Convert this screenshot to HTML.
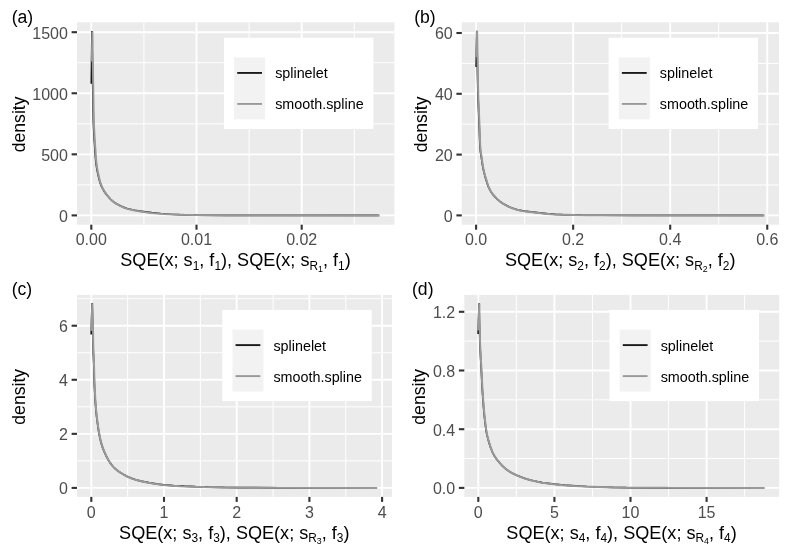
<!DOCTYPE html>
<html lang="en"><head><meta charset="utf-8"><title>SQE density plots</title>
<style>html,body{margin:0;padding:0;background:#fff;}body{width:790px;height:553px;overflow:hidden;}svg{display:block;}text{font-family:"Liberation Sans", Arial, Helvetica, sans-serif;}.ax{font-size:16px;fill:#4d4d4d;}.ti{font-size:17.6px;fill:#000;}.xt{font-size:18.1px;fill:#000;}.lg{font-size:14.35px;fill:#000;}</style></head><body>
<svg width="790" height="553" viewBox="0 0 790 553">
<rect x="0" y="0" width="790" height="553" fill="#ffffff"/>
<g>
<clipPath id="cp0"><rect x="77" y="22.3" width="317.4" height="202.4"/></clipPath>
<rect x="77" y="22.3" width="317.4" height="202.4" fill="#ebebeb"/>
<g clip-path="url(#cp0)" stroke="#ffffff" fill="none">
<line x1="77" x2="394.4" y1="184.87" y2="184.87" stroke-width="1.0"/>
<line x1="77" x2="394.4" y1="123.8" y2="123.8" stroke-width="1.0"/>
<line x1="77" x2="394.4" y1="62.73" y2="62.73" stroke-width="1.0"/>
<line x1="143.9" x2="143.9" y1="22.3" y2="224.7" stroke-width="1.0"/>
<line x1="249.1" x2="249.1" y1="22.3" y2="224.7" stroke-width="1.0"/>
<line x1="354.3" x2="354.3" y1="22.3" y2="224.7" stroke-width="1.0"/>
<line x1="77" x2="394.4" y1="215.4" y2="215.4" stroke-width="1.9"/>
<line x1="77" x2="394.4" y1="154.33" y2="154.33" stroke-width="1.9"/>
<line x1="77" x2="394.4" y1="93.27" y2="93.27" stroke-width="1.9"/>
<line x1="77" x2="394.4" y1="32.2" y2="32.2" stroke-width="1.9"/>
<line x1="91.3" x2="91.3" y1="22.3" y2="224.7" stroke-width="1.9"/>
<line x1="196.5" x2="196.5" y1="22.3" y2="224.7" stroke-width="1.9"/>
<line x1="301.7" x2="301.7" y1="22.3" y2="224.7" stroke-width="1.9"/>
</g>
<g clip-path="url(#cp0)" fill="none" stroke-linejoin="bevel" stroke-linecap="butt" stroke-width="2.0">
<path d="M91.3 83.7 L91.95 31 L92.31 59 L93.24 114.99 L93.39 121.98 L93.64 127.98 L94.24 138.96 L94.94 148.93 L95.27 154.92 L95.79 160.89 L96.26 164.87 L96.87 168.82 L97.44 171.76 L98.97 178.6 L99.75 181.5 L100.35 183.41 L101.04 185.28 L101.85 187.1 L102.77 188.89 L104.29 191.48 L105.41 193.13 L107.26 195.51 L109.2 197.79 L110.58 199.24 L112.03 200.64 L113.56 201.91 L115.2 203.03 L116.92 204.07 L118.7 205.02 L121.39 206.33 L123.23 207.13 L125.1 207.85 L127 208.46 L128.93 208.98 L134.8 210.25 L139.73 211.09 L151.63 212.64 L160.6 213.48 L170.58 214.23 L179.57 214.67 L188.57 214.94 L196.57 215.1 L226.57 215.29 L378.7 215.4" stroke="#1a1a1a" stroke-width="1.7"/>
<path d="M91.8 61.4 L92.4 31.4 L92.84 64.4 L93.71 116.39 L93.91 124.38 L94.69 139.36 L95.39 149.33 L95.87 157.31 L96.58 164.27 L97.5 170.2 L99.19 178.02 L99.66 179.97 L100.49 182.86 L101.13 184.75 L101.88 186.59 L102.75 188.4 L104.22 191.03 L105.28 192.71 L107.08 195.13 L108.99 197.44 L111.03 199.64 L112.48 201.04 L114.01 202.31 L115.65 203.43 L118.26 204.96 L120.04 205.87 L122.76 207.14 L124.62 207.91 L126.5 208.57 L128.41 209.12 L131.33 209.84 L137.22 211.01 L141.17 211.62 L151.09 212.92 L154.07 213.23 L163.04 213.96 L175.03 214.6 L184.02 214.86 L194.02 215.06 L223.02 215.28 L251.02 215.35 L379.7 215.4" stroke="#999999"/>
</g>
<g stroke="#333333" stroke-width="2.1">
<line x1="71.6" x2="77" y1="215.4" y2="215.4"/>
<line x1="71.6" x2="77" y1="154.33" y2="154.33"/>
<line x1="71.6" x2="77" y1="93.27" y2="93.27"/>
<line x1="71.6" x2="77" y1="32.2" y2="32.2"/>
<line x1="91.3" x2="91.3" y1="224.7" y2="229.7"/>
<line x1="196.5" x2="196.5" y1="224.7" y2="229.7"/>
<line x1="301.7" x2="301.7" y1="224.7" y2="229.7"/>
</g>
<g class="ax">
<text x="67.9" y="221.8" text-anchor="end">0</text>
<text x="67.9" y="160.73" text-anchor="end">500</text>
<text x="67.9" y="99.67" text-anchor="end">1000</text>
<text x="67.9" y="38.6" text-anchor="end">1500</text>
<text x="91.3" y="245.4" text-anchor="middle">0.00</text>
<text x="196.5" y="245.4" text-anchor="middle">0.01</text>
<text x="301.7" y="245.4" text-anchor="middle">0.02</text>
</g>
<text class="ti" transform="translate(24.8 124.4) rotate(-90)" text-anchor="middle">density</text>
<text class="xt" x="235.5" y="266.3" text-anchor="middle">SQE(x; s<tspan font-size="11.9" dy="3.6">1</tspan><tspan dy="-3.6">, f</tspan><tspan font-size="11.9" dy="3.6">1</tspan><tspan dy="-3.6">), SQE(x; s</tspan><tspan font-size="11.9" dy="3.6">R</tspan><tspan font-size="8.8" dy="2.2">1</tspan><tspan dy="-5.8">, f</tspan><tspan font-size="11.9" dy="3.6">1</tspan><tspan dy="-3.6">)</tspan></text>
<text class="ti" x="11.7" y="22.6">(a)</text>
<rect x="223.93" y="37.72" width="149.5" height="91.2" fill="#ffffff"/>
<rect x="234.13" y="57.42" width="31" height="62" fill="#f2f2f2"/>
<line x1="237.23" x2="262.03" y1="72.92" y2="72.92" stroke="#1a1a1a" stroke-width="1.9"/>
<line x1="237.23" x2="262.03" y1="103.92" y2="103.92" stroke="#999999" stroke-width="1.9"/>
<text class="lg" x="275.13" y="78.32">splinelet</text>
<text class="lg" x="275.13" y="109.32">smooth.spline</text>
</g>
<g>
<clipPath id="cp1"><rect x="461.8" y="22.3" width="317.2" height="202.4"/></clipPath>
<rect x="461.8" y="22.3" width="317.2" height="202.4" fill="#ebebeb"/>
<g clip-path="url(#cp1)" stroke="#ffffff" fill="none">
<line x1="461.8" x2="779" y1="185" y2="185" stroke-width="1.0"/>
<line x1="461.8" x2="779" y1="124.2" y2="124.2" stroke-width="1.0"/>
<line x1="461.8" x2="779" y1="63.4" y2="63.4" stroke-width="1.0"/>
<line x1="524.62" x2="524.62" y1="22.3" y2="224.7" stroke-width="1.0"/>
<line x1="621.67" x2="621.67" y1="22.3" y2="224.7" stroke-width="1.0"/>
<line x1="718.73" x2="718.73" y1="22.3" y2="224.7" stroke-width="1.0"/>
<line x1="461.8" x2="779" y1="215.4" y2="215.4" stroke-width="1.9"/>
<line x1="461.8" x2="779" y1="154.6" y2="154.6" stroke-width="1.9"/>
<line x1="461.8" x2="779" y1="93.8" y2="93.8" stroke-width="1.9"/>
<line x1="461.8" x2="779" y1="33" y2="33" stroke-width="1.9"/>
<line x1="476.1" x2="476.1" y1="22.3" y2="224.7" stroke-width="1.9"/>
<line x1="573.15" x2="573.15" y1="22.3" y2="224.7" stroke-width="1.9"/>
<line x1="670.2" x2="670.2" y1="22.3" y2="224.7" stroke-width="1.9"/>
<line x1="767.25" x2="767.25" y1="22.3" y2="224.7" stroke-width="1.9"/>
</g>
<g clip-path="url(#cp1)" fill="none" stroke-linejoin="bevel" stroke-linecap="butt" stroke-width="2.0">
<path d="M476.1 66.9 L476.8 30.65 L477.54 75.65 L477.89 91.64 L478.15 99.63 L479.17 124.61 L479.8 142.61 L480.15 148.59 L480.44 151.56 L481.25 156.49 L482.4 164.41 L482.91 167.37 L483.51 170.31 L484.97 176.13 L487.61 184.74 L488.32 186.59 L489.16 188.43 L490.59 191.09 L491.64 192.76 L492.81 194.37 L494.77 196.67 L496.87 198.82 L498.34 200.18 L499.9 201.45 L502.35 203.16 L504.07 204.2 L506.71 205.62 L509.41 206.94 L511.26 207.73 L515.03 209.04 L516.96 209.59 L518.9 210.06 L521.84 210.65 L524.8 211.15 L530.74 211.96 L548.66 213.82 L555.64 214.3 L562.64 214.63 L570.64 214.87 L581.63 215.11 L599.63 215.27 L634.63 215.35 L763.6 215.4" stroke="#1a1a1a" stroke-width="1.7"/>
<path d="M476.4 57.4 L477.1 30.9 L477.84 75.9 L478.19 91.89 L478.45 99.88 L479.47 124.86 L480.05 141.86 L480.32 146.85 L480.61 150.82 L481.55 156.74 L482.38 162.69 L483.4 168.6 L484.03 171.53 L485 175.41 L487.91 184.99 L489.03 187.76 L489.91 189.58 L490.89 191.34 L492.51 193.82 L493.74 195.4 L495.76 197.65 L497.89 199.76 L499.41 201.08 L501 202.3 L502.65 203.41 L505.24 204.94 L507.9 206.33 L509.71 207.19 L511.56 207.98 L513.42 208.66 L517.26 209.84 L519.2 210.31 L522.14 210.9 L526.09 211.55 L530.05 212.09 L544.97 213.65 L550.95 214.13 L559.94 214.59 L574.93 214.99 L587.93 215.2 L597.93 215.27 L634.93 215.35 L764.6 215.4" stroke="#999999"/>
</g>
<g stroke="#333333" stroke-width="2.1">
<line x1="456.4" x2="461.8" y1="215.4" y2="215.4"/>
<line x1="456.4" x2="461.8" y1="154.6" y2="154.6"/>
<line x1="456.4" x2="461.8" y1="93.8" y2="93.8"/>
<line x1="456.4" x2="461.8" y1="33" y2="33"/>
<line x1="476.1" x2="476.1" y1="224.7" y2="229.7"/>
<line x1="573.15" x2="573.15" y1="224.7" y2="229.7"/>
<line x1="670.2" x2="670.2" y1="224.7" y2="229.7"/>
<line x1="767.25" x2="767.25" y1="224.7" y2="229.7"/>
</g>
<g class="ax">
<text x="452.7" y="221.8" text-anchor="end">0</text>
<text x="452.7" y="161" text-anchor="end">20</text>
<text x="452.7" y="100.2" text-anchor="end">40</text>
<text x="452.7" y="39.4" text-anchor="end">60</text>
<text x="476.1" y="245.4" text-anchor="middle">0.0</text>
<text x="573.15" y="245.4" text-anchor="middle">0.2</text>
<text x="670.2" y="245.4" text-anchor="middle">0.4</text>
<text x="767.25" y="245.4" text-anchor="middle">0.6</text>
</g>
<text class="ti" transform="translate(427.3 124.4) rotate(-90)" text-anchor="middle">density</text>
<text class="xt" x="620.2" y="266.3" text-anchor="middle">SQE(x; s<tspan font-size="11.9" dy="3.6">2</tspan><tspan dy="-3.6">, f</tspan><tspan font-size="11.9" dy="3.6">2</tspan><tspan dy="-3.6">), SQE(x; s</tspan><tspan font-size="11.9" dy="3.6">R</tspan><tspan font-size="8.8" dy="2.2">2</tspan><tspan dy="-5.8">, f</tspan><tspan font-size="11.9" dy="3.6">2</tspan><tspan dy="-3.6">)</tspan></text>
<text class="ti" x="414.2" y="22.6">(b)</text>
<rect x="608.59" y="37.72" width="149.5" height="91.2" fill="#ffffff"/>
<rect x="618.79" y="57.42" width="31" height="62" fill="#f2f2f2"/>
<line x1="621.89" x2="646.69" y1="72.92" y2="72.92" stroke="#1a1a1a" stroke-width="1.9"/>
<line x1="621.89" x2="646.69" y1="103.92" y2="103.92" stroke="#999999" stroke-width="1.9"/>
<text class="lg" x="659.79" y="78.32">splinelet</text>
<text class="lg" x="659.79" y="109.32">smooth.spline</text>
</g>
<g>
<clipPath id="cp2"><rect x="77" y="294.9" width="315" height="202"/></clipPath>
<rect x="77" y="294.9" width="315" height="202" fill="#ebebeb"/>
<g clip-path="url(#cp2)" stroke="#ffffff" fill="none">
<line x1="77" x2="392" y1="460.87" y2="460.87" stroke-width="1.0"/>
<line x1="77" x2="392" y1="406.81" y2="406.81" stroke-width="1.0"/>
<line x1="77" x2="392" y1="352.75" y2="352.75" stroke-width="1.0"/>
<line x1="77" x2="392" y1="298.69" y2="298.69" stroke-width="1.0"/>
<line x1="127.65" x2="127.65" y1="294.9" y2="496.9" stroke-width="1.0"/>
<line x1="200.35" x2="200.35" y1="294.9" y2="496.9" stroke-width="1.0"/>
<line x1="273.05" x2="273.05" y1="294.9" y2="496.9" stroke-width="1.0"/>
<line x1="345.75" x2="345.75" y1="294.9" y2="496.9" stroke-width="1.0"/>
<line x1="77" x2="392" y1="487.9" y2="487.9" stroke-width="1.9"/>
<line x1="77" x2="392" y1="433.84" y2="433.84" stroke-width="1.9"/>
<line x1="77" x2="392" y1="379.78" y2="379.78" stroke-width="1.9"/>
<line x1="77" x2="392" y1="325.72" y2="325.72" stroke-width="1.9"/>
<line x1="91.3" x2="91.3" y1="294.9" y2="496.9" stroke-width="1.9"/>
<line x1="164" x2="164" y1="294.9" y2="496.9" stroke-width="1.9"/>
<line x1="236.7" x2="236.7" y1="294.9" y2="496.9" stroke-width="1.9"/>
<line x1="309.4" x2="309.4" y1="294.9" y2="496.9" stroke-width="1.9"/>
<line x1="382.1" x2="382.1" y1="294.9" y2="496.9" stroke-width="1.9"/>
</g>
<g clip-path="url(#cp2)" fill="none" stroke-linejoin="bevel" stroke-linecap="butt" stroke-width="2.0">
<path d="M91.2 334.6 L92.1 303.05 L92.65 323.04 L93.14 349.04 L93.78 363.02 L94.33 384.01 L95.13 398.99 L95.53 404.97 L96.02 410.95 L96.44 414.92 L97.06 419.88 L98.12 427.81 L98.75 431.76 L99.65 436.68 L100.53 440.58 L101.31 443.48 L102.19 446.34 L103.2 449.17 L104.33 451.95 L106.02 455.58 L107.81 459.16 L108.81 460.89 L110.48 463.39 L112.33 465.77 L113.65 467.24 L115.09 468.64 L116.61 469.95 L118.2 471.16 L119.87 472.26 L124.16 474.86 L125.9 475.85 L127.69 476.72 L130.45 477.89 L133.28 478.93 L135.18 479.54 L138.06 480.35 L140.98 481.07 L144.89 481.91 L148.82 482.65 L157.71 484.08 L163.66 484.84 L173.63 485.62 L184.62 486.21 L195.61 486.67 L209.6 487.08 L224.6 487.42 L237.6 487.61 L276.6 487.81 L376.2 487.9" stroke="#1a1a1a" stroke-width="1.7"/>
<path d="M91.3 330.9 L92.3 303.2 L92.85 323.19 L93.34 349.19 L93.98 363.17 L94.53 384.16 L95.33 399.14 L96.13 410.11 L97 418.05 L98.18 426.97 L98.79 430.92 L99.66 435.85 L100.5 439.76 L101.24 442.67 L102.08 445.54 L103.4 449.32 L104.53 452.1 L106.22 455.73 L108.01 459.31 L109.01 461.04 L110.68 463.54 L112.53 465.92 L113.85 467.39 L115.29 468.79 L116.81 470.1 L118.4 471.31 L120.07 472.41 L124.36 475.01 L126.1 476 L127.89 476.87 L130.65 478.04 L133.48 479.08 L135.38 479.69 L140.2 480.99 L143.14 481.65 L147.05 482.45 L155.93 483.93 L162.87 484.88 L166.85 485.26 L171.84 485.63 L180.82 486.15 L192.81 486.65 L204.81 487 L222.8 487.4 L237.8 487.61 L276.8 487.81 L377.2 487.9" stroke="#999999"/>
</g>
<g stroke="#333333" stroke-width="2.1">
<line x1="71.6" x2="77" y1="487.9" y2="487.9"/>
<line x1="71.6" x2="77" y1="433.84" y2="433.84"/>
<line x1="71.6" x2="77" y1="379.78" y2="379.78"/>
<line x1="71.6" x2="77" y1="325.72" y2="325.72"/>
<line x1="91.3" x2="91.3" y1="496.9" y2="501.9"/>
<line x1="164" x2="164" y1="496.9" y2="501.9"/>
<line x1="236.7" x2="236.7" y1="496.9" y2="501.9"/>
<line x1="309.4" x2="309.4" y1="496.9" y2="501.9"/>
<line x1="382.1" x2="382.1" y1="496.9" y2="501.9"/>
</g>
<g class="ax">
<text x="67.9" y="494.3" text-anchor="end">0</text>
<text x="67.9" y="440.24" text-anchor="end">2</text>
<text x="67.9" y="386.18" text-anchor="end">4</text>
<text x="67.9" y="332.12" text-anchor="end">6</text>
<text x="91.3" y="517.6" text-anchor="middle">0</text>
<text x="164" y="517.6" text-anchor="middle">1</text>
<text x="236.7" y="517.6" text-anchor="middle">2</text>
<text x="309.4" y="517.6" text-anchor="middle">3</text>
<text x="382.1" y="517.6" text-anchor="middle">4</text>
</g>
<text class="ti" transform="translate(24.8 396.8) rotate(-90)" text-anchor="middle">density</text>
<text class="xt" x="234.3" y="538.5" text-anchor="middle">SQE(x; s<tspan font-size="11.9" dy="3.6">3</tspan><tspan dy="-3.6">, f</tspan><tspan font-size="11.9" dy="3.6">3</tspan><tspan dy="-3.6">), SQE(x; s</tspan><tspan font-size="11.9" dy="3.6">R</tspan><tspan font-size="8.8" dy="2.2">3</tspan><tspan dy="-5.8">, f</tspan><tspan font-size="11.9" dy="3.6">3</tspan><tspan dy="-3.6">)</tspan></text>
<text class="ti" x="11.7" y="295.2">(c)</text>
<rect x="222.25" y="309.9" width="149.5" height="91.2" fill="#ffffff"/>
<rect x="232.45" y="329.6" width="31" height="62" fill="#f2f2f2"/>
<line x1="235.55" x2="260.35" y1="345.1" y2="345.1" stroke="#1a1a1a" stroke-width="1.9"/>
<line x1="235.55" x2="260.35" y1="376.1" y2="376.1" stroke="#999999" stroke-width="1.9"/>
<text class="lg" x="273.45" y="350.5">splinelet</text>
<text class="lg" x="273.45" y="381.5">smooth.spline</text>
</g>
<g>
<clipPath id="cp3"><rect x="464.3" y="294.9" width="314.9" height="202"/></clipPath>
<rect x="464.3" y="294.9" width="314.9" height="202" fill="#ebebeb"/>
<g clip-path="url(#cp3)" stroke="#ffffff" fill="none">
<line x1="464.3" x2="779.2" y1="458.55" y2="458.55" stroke-width="1.0"/>
<line x1="464.3" x2="779.2" y1="399.85" y2="399.85" stroke-width="1.0"/>
<line x1="464.3" x2="779.2" y1="341.15" y2="341.15" stroke-width="1.0"/>
<line x1="516.35" x2="516.35" y1="294.9" y2="496.9" stroke-width="1.0"/>
<line x1="592.45" x2="592.45" y1="294.9" y2="496.9" stroke-width="1.0"/>
<line x1="668.55" x2="668.55" y1="294.9" y2="496.9" stroke-width="1.0"/>
<line x1="744.65" x2="744.65" y1="294.9" y2="496.9" stroke-width="1.0"/>
<line x1="464.3" x2="779.2" y1="487.9" y2="487.9" stroke-width="1.9"/>
<line x1="464.3" x2="779.2" y1="429.2" y2="429.2" stroke-width="1.9"/>
<line x1="464.3" x2="779.2" y1="370.5" y2="370.5" stroke-width="1.9"/>
<line x1="464.3" x2="779.2" y1="311.8" y2="311.8" stroke-width="1.9"/>
<line x1="478.3" x2="478.3" y1="294.9" y2="496.9" stroke-width="1.9"/>
<line x1="554.4" x2="554.4" y1="294.9" y2="496.9" stroke-width="1.9"/>
<line x1="630.5" x2="630.5" y1="294.9" y2="496.9" stroke-width="1.9"/>
<line x1="706.6" x2="706.6" y1="294.9" y2="496.9" stroke-width="1.9"/>
</g>
<g clip-path="url(#cp3)" fill="none" stroke-linejoin="bevel" stroke-linecap="butt" stroke-width="2.0">
<path d="M478.1 334 L479.15 303.25 L479.19 311.25 L479.33 320.25 L479.92 343.24 L480.22 350.23 L481.42 372.2 L482.19 388.18 L483.55 407.13 L484.48 417.08 L485.53 426.02 L486.06 429.99 L486.58 432.94 L487.45 436.84 L488.2 439.75 L489.03 442.63 L490.24 446.45 L491.24 449.28 L492.39 452.04 L493.27 453.85 L494.22 455.61 L495.27 457.3 L497.06 459.72 L499.59 462.82 L501.61 465.05 L503.74 467.16 L506.01 469.12 L507.61 470.31 L509.29 471.41 L511.89 472.91 L514.57 474.25 L518.22 475.9 L521 477.05 L523.81 478.09 L526.66 478.99 L529.56 479.81 L533.44 480.78 L537.35 481.64 L542.26 482.54 L554.16 484.13 L564.11 485.08 L575.09 485.85 L587.07 486.51 L600.06 487.02 L613.06 487.4 L626.06 487.61 L667.06 487.82 L763.7 487.9" stroke="#1a1a1a" stroke-width="1.7"/>
<path d="M478.15 330.2 L479.35 303.4 L479.39 311.4 L479.53 320.4 L480.12 343.39 L480.42 350.38 L481.62 372.35 L482.33 387.34 L483.67 406.29 L484.57 416.24 L485.36 423.19 L486.12 429.15 L486.59 432.11 L487.42 436.02 L488.4 439.9 L489.23 442.78 L490.44 446.6 L491.44 449.43 L492.59 452.19 L493.47 454 L494.42 455.76 L495.47 457.45 L496.65 459.08 L499.14 462.21 L501.12 464.47 L503.21 466.61 L505.44 468.64 L507 469.88 L508.64 471.02 L511.21 472.58 L513.87 473.97 L516.59 475.24 L520.27 476.83 L523.07 477.91 L525.91 478.85 L528.79 479.7 L532.67 480.7 L536.57 481.59 L539.51 482.18 L542.46 482.69 L553.37 484.17 L563.32 485.15 L574.29 485.94 L586.27 486.57 L599.26 487.04 L613.26 487.41 L627.26 487.62 L668.26 487.82 L764.7 487.9" stroke="#999999"/>
</g>
<g stroke="#333333" stroke-width="2.1">
<line x1="458.9" x2="464.3" y1="487.9" y2="487.9"/>
<line x1="458.9" x2="464.3" y1="429.2" y2="429.2"/>
<line x1="458.9" x2="464.3" y1="370.5" y2="370.5"/>
<line x1="458.9" x2="464.3" y1="311.8" y2="311.8"/>
<line x1="478.3" x2="478.3" y1="496.9" y2="501.9"/>
<line x1="554.4" x2="554.4" y1="496.9" y2="501.9"/>
<line x1="630.5" x2="630.5" y1="496.9" y2="501.9"/>
<line x1="706.6" x2="706.6" y1="496.9" y2="501.9"/>
</g>
<g class="ax">
<text x="455.2" y="494.3" text-anchor="end">0.0</text>
<text x="455.2" y="435.6" text-anchor="end">0.4</text>
<text x="455.2" y="376.9" text-anchor="end">0.8</text>
<text x="455.2" y="318.2" text-anchor="end">1.2</text>
<text x="478.3" y="517.6" text-anchor="middle">0</text>
<text x="554.4" y="517.6" text-anchor="middle">5</text>
<text x="630.5" y="517.6" text-anchor="middle">10</text>
<text x="706.6" y="517.6" text-anchor="middle">15</text>
</g>
<text class="ti" transform="translate(425.1 396.8) rotate(-90)" text-anchor="middle">density</text>
<text class="xt" x="621.55" y="538.5" text-anchor="middle">SQE(x; s<tspan font-size="11.9" dy="3.6">4</tspan><tspan dy="-3.6">, f</tspan><tspan font-size="11.9" dy="3.6">4</tspan><tspan dy="-3.6">), SQE(x; s</tspan><tspan font-size="11.9" dy="3.6">R</tspan><tspan font-size="8.8" dy="2.2">4</tspan><tspan dy="-5.8">, f</tspan><tspan font-size="11.9" dy="3.6">4</tspan><tspan dy="-3.6">)</tspan></text>
<text class="ti" x="412" y="295.2">(d)</text>
<rect x="609.48" y="309.9" width="149.5" height="91.2" fill="#ffffff"/>
<rect x="619.68" y="329.6" width="31" height="62" fill="#f2f2f2"/>
<line x1="622.78" x2="647.58" y1="345.1" y2="345.1" stroke="#1a1a1a" stroke-width="1.9"/>
<line x1="622.78" x2="647.58" y1="376.1" y2="376.1" stroke="#999999" stroke-width="1.9"/>
<text class="lg" x="660.68" y="350.5">splinelet</text>
<text class="lg" x="660.68" y="381.5">smooth.spline</text>
</g>
</svg></body></html>
